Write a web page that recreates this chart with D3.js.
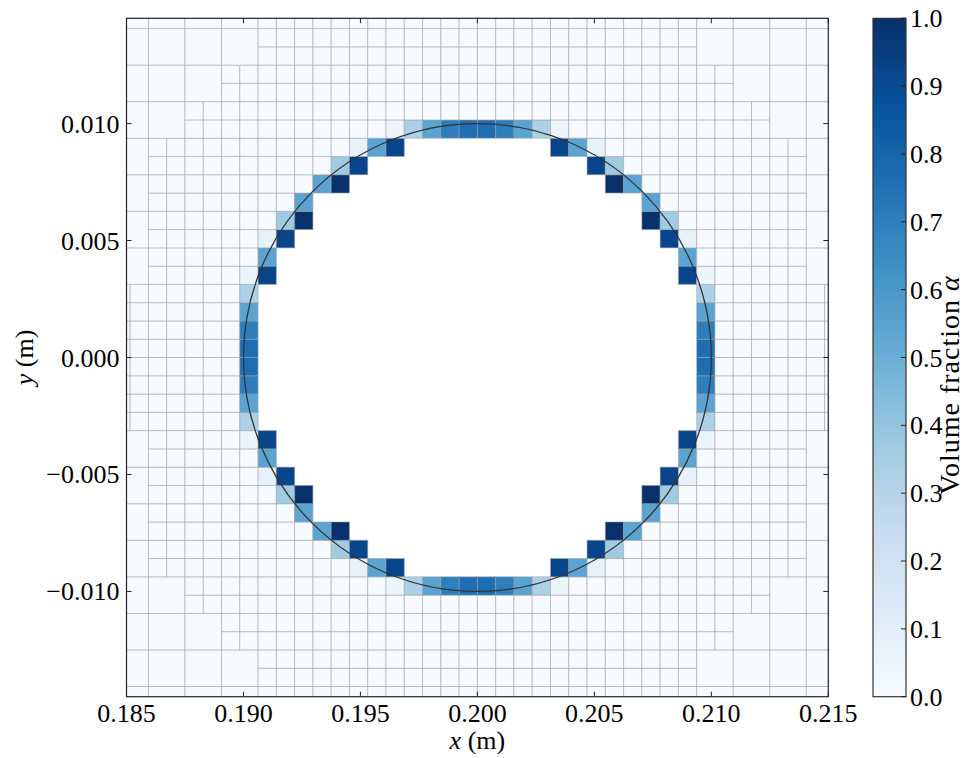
<!DOCTYPE html>
<html><head><meta charset="utf-8">
<script src="https://cdn.jsdelivr.net/npm/d3@7"></script>
<style>
body{margin:0;background:#fff}
text{font-family:"Liberation Serif","DejaVu Serif",serif;fill:#000}
</style>
</head><body>
<svg id="chart" width="969" height="758"></svg>
<script>
// ---------- data ----------
const xTicks = [0.185, 0.190, 0.195, 0.200, 0.205, 0.210, 0.215];
const xTickLabels = ["0.185", "0.190", "0.195", "0.200", "0.205", "0.210", "0.215"];
const yTicks = [-0.010, -0.005, 0.000, 0.005, 0.010];
const yTickLabels = ["\u22120.010", "\u22120.005", "0.000", "0.005", "0.010"];
const cbTicks = [0.0, 0.1, 0.2, 0.3, 0.4, 0.5, 0.6, 0.7, 0.8, 0.9, 1.0];
const cbTickLabels = ["0.0", "0.1", "0.2", "0.3", "0.4", "0.5", "0.6", "0.7", "0.8", "0.9", "1.0"];
const bluesStops = [0, 0.125, 0.25, 0.375, 0.5, 0.625, 0.75, 0.875, 1];
const bluesColors = ["#f7fbff", "#deebf7", "#c6dbef", "#9ecae1", "#6baed6", "#4292c6", "#2171b5", "#08519c", "#08306b"];

const xDomain = [0.185, 0.215];
const yDomain = [-0.0145, 0.0145];
const meshOrigin = [0.2, 0.0];
const fineCellSize = 0.00078125;      // finest AMR cell
const coarseRange = [-10, 9];         // coarse (2h) cell indices covering the view
// coarse rows J and range of refined coarse columns I in that row
const refineRowJ  = [9, 8, 7, 6, 5, 4, 3, 2, 1, 0, -1, -2, -3, -4, -5, -6, -7, -8, -9, -10];
const refineIMin  = [-6, -6, -7, -8, -9, -9, -9, -9, -10, -10, -10, -10, -9, -9, -9, -9, -8, -7, -6, -6];
const refineIMax  = [5, 5, 6, 7, 8, 8, 8, 8, 9, 9, 9, 9, 8, 8, 8, 8, 7, 6, 5, 5];

// interface (fine) cells: column index i, row index j, volume fraction
const ifaceI = [
  -5,-4,-3,-2,-1, -7,-6,-5, -8,-7, -9,-8, -10, -11,-10, -12,-11, -12, -13,-12, -13, -13, -13, -13,
   4, 3, 2, 1, 0,  6, 5, 4,  7, 6,  8, 7,   9,  10,  9,  11, 10,  11,  12, 11,  12,  12,  12,  12,
  -5,-4,-3,-2,-1, -7,-6,-5, -8,-7, -9,-8, -10, -11,-10, -12,-11, -12, -13,-12, -13, -13, -13, -13,
   4, 3, 2, 1, 0,  6, 5, 4,  7, 6,  8, 7,   9,  10,  9,  11, 10,  11,  12, 11,  12,  12,  12,  12];
const ifaceJ = [
  12,12,12,12,12, 11,11,11, 10,10, 9,9, 8, 7,7, 6,6, 5, 4,4, 3, 2, 1, 0,
  12,12,12,12,12, 11,11,11, 10,10, 9,9, 8, 7,7, 6,6, 5, 4,4, 3, 2, 1, 0,
  -13,-13,-13,-13,-13, -12,-12,-12, -11,-11, -10,-10, -9, -8,-8, -7,-7, -6, -5,-5, -4, -3, -2, -1,
  -13,-13,-13,-13,-13, -12,-12,-12, -11,-11, -10,-10, -9, -8,-8, -7,-7, -6, -5,-5, -4, -3, -2, -1];
const ifaceAlpha = [
  0.05,0.33,0.55,0.70,0.76, 0.08,0.55,0.92, 0.37,0.92, 0.55,1.00, 0.55, 0.37,1.00, 0.08,0.92, 0.55, 0.05,0.92, 0.33, 0.55, 0.70, 0.76,
  0.05,0.33,0.55,0.70,0.76, 0.08,0.55,0.92, 0.37,0.92, 0.55,1.00, 0.55, 0.37,1.00, 0.08,0.92, 0.55, 0.05,0.92, 0.33, 0.55, 0.70, 0.76,
  0.05,0.33,0.55,0.70,0.76, 0.08,0.55,0.92, 0.37,0.92, 0.55,1.00, 0.55, 0.37,1.00, 0.08,0.92, 0.55, 0.05,0.92, 0.33, 0.55, 0.70, 0.76,
  0.05,0.33,0.55,0.70,0.76, 0.08,0.55,0.92, 0.37,0.92, 0.55,1.00, 0.55, 0.37,1.00, 0.08,0.92, 0.55, 0.05,0.92, 0.33, 0.55, 0.70, 0.76];

const circleCenter = [0.2, 0.0];
const circleRadius = 0.01;

// ---------- layout ----------
const plotL = 126.5, plotR = 828.3, plotT = 18.3, plotB = 696.7;
const cbL = 873, cbR = 906;

const svg = d3.select("#chart");
const xs = d3.scaleLinear().domain(xDomain).range([plotL, plotR]);
const ys = d3.scaleLinear().domain(yDomain).range([plotB, plotT]);
const color = d3.scaleLinear().domain(bluesStops).range(bluesColors).clamp(true);

// ---------- build cells ----------
const ifaceMap = new Map();
ifaceI.forEach((i, k) => ifaceMap.set(i + "," + ifaceJ[k], ifaceAlpha[k]));
const h = fineCellSize;
const cells = [];
function inside(x0, y0, s) {
  const cx = x0 + s / 2 - circleCenter[0], cy = y0 + s / 2 - circleCenter[1];
  return Math.hypot(cx, cy) < circleRadius;
}
for (let J = coarseRange[0]; J <= coarseRange[1]; J++) {
  const r = refineRowJ.indexOf(J);
  for (let I = coarseRange[0]; I <= coarseRange[1]; I++) {
    const refined = r >= 0 && I >= refineIMin[r] && I <= refineIMax[r];
    if (refined) {
      for (let di = 0; di < 2; di++) for (let dj = 0; dj < 2; dj++) {
        const i = 2 * I + di, j = 2 * J + dj;
        const x0 = meshOrigin[0] + i * h, y0 = meshOrigin[1] + j * h;
        const key = i + "," + j;
        if (ifaceMap.has(key)) cells.push({x0, y0, s: h, a: ifaceMap.get(key)});
        else if (!inside(x0, y0, h)) cells.push({x0, y0, s: h, a: 0});
      }
    } else {
      const x0 = meshOrigin[0] + 2 * I * h, y0 = meshOrigin[1] + 2 * J * h;
      if (!inside(x0, y0, 2 * h)) cells.push({x0, y0, s: 2 * h, a: 0});
    }
  }
}

// ---------- draw ----------
const defs = svg.append("defs");
defs.append("clipPath").attr("id", "plotclip").append("rect")
  .attr("x", plotL).attr("y", plotT).attr("width", plotR - plotL).attr("height", plotB - plotT);

const g = svg.append("g").attr("clip-path", "url(#plotclip)");
g.selectAll("rect.cell").data(cells).join("rect")
  .attr("class", "cell")
  .attr("x", d => xs(d.x0))
  .attr("y", d => ys(d.y0 + d.s))
  .attr("width", d => xs(d.x0 + d.s) - xs(d.x0))
  .attr("height", d => ys(d.y0) - ys(d.y0 + d.s))
  .attr("fill", d => color(d.a))
  .attr("stroke", "#9aa0a6")
  .attr("stroke-opacity", 0.55)
  .attr("stroke-width", 1);

g.append("ellipse")
  .attr("cx", xs(circleCenter[0])).attr("cy", ys(circleCenter[1]))
  .attr("rx", xs(circleCenter[0] + circleRadius) - xs(circleCenter[0]))
  .attr("ry", ys(circleCenter[1]) - ys(circleCenter[1] + circleRadius))
  .attr("fill", "none").attr("stroke", "#333").attr("stroke-width", 1.3);

// frame
svg.append("rect").attr("x", plotL).attr("y", plotT)
  .attr("width", plotR - plotL).attr("height", plotB - plotT)
  .attr("fill", "none").attr("stroke", "#222").attr("stroke-width", 1.2);

const tickLen = 5, fs = 26;
const ax = svg.append("g");
xTicks.forEach((t, k) => {
  const x = xs(t);
  ax.append("line").attr("x1", x).attr("x2", x).attr("y1", plotB).attr("y2", plotB - tickLen).attr("stroke", "#222");
  ax.append("line").attr("x1", x).attr("x2", x).attr("y1", plotT).attr("y2", plotT + tickLen).attr("stroke", "#222");
  ax.append("text").attr("x", x).attr("y", plotB + 25).attr("text-anchor", "middle")
    .attr("font-size", fs).text(xTickLabels[k]);
});
yTicks.forEach((t, k) => {
  const y = ys(t);
  ax.append("line").attr("x1", plotL).attr("x2", plotL + tickLen).attr("y1", y).attr("y2", y).attr("stroke", "#222");
  ax.append("line").attr("x1", plotR).attr("x2", plotR - tickLen).attr("y1", y).attr("y2", y).attr("stroke", "#222");
  ax.append("text").attr("x", plotL - 7).attr("y", y + 9).attr("text-anchor", "end")
    .attr("font-size", fs).text(yTickLabels[k]);
});

// axis labels
const xl = svg.append("text").attr("x", (plotL + plotR) / 2).attr("y", 749)
  .attr("text-anchor", "middle").attr("font-size", fs);
xl.append("tspan").attr("font-style", "italic").text("x");
xl.append("tspan").text(" (m)");
const yl = svg.append("text").attr("transform", `translate(33,${(plotT + plotB) / 2}) rotate(-90)`)
  .attr("text-anchor", "middle").attr("font-size", fs);
yl.append("tspan").attr("font-style", "italic").text("y");
yl.append("tspan").text(" (m)");

// colorbar
const cs = d3.scaleLinear().domain([0, 1]).range([plotB, plotT]);
const grad = defs.append("linearGradient").attr("id", "cbgrad")
  .attr("x1", 0).attr("y1", 1).attr("x2", 0).attr("y2", 0);
bluesStops.forEach((s, k) => grad.append("stop").attr("offset", s).attr("stop-color", bluesColors[k]));
svg.append("rect").attr("x", cbL).attr("y", cs(1)).attr("width", cbR - cbL).attr("height", cs(0) - cs(1))
  .attr("fill", "url(#cbgrad)").attr("stroke", "#333").attr("stroke-width", 1.2);
cbTicks.forEach((t, k) => {
  const y = cs(t);
  svg.append("line").attr("x1", cbR - 5).attr("x2", cbR).attr("y1", y).attr("y2", y).attr("stroke", "#222");
  svg.append("text").attr("x", cbR + 4).attr("y", y + 9).attr("font-size", fs).text(cbTickLabels[k]);
});
const cl = svg.append("text").attr("transform", `translate(959,385) rotate(-90)`)
  .attr("text-anchor", "middle").attr("font-size", 28).attr("letter-spacing", 1);
cl.append("tspan").text("Volume fraction ");
cl.append("tspan").attr("font-style", "italic").text("\u03b1");
</script>
</body></html>
